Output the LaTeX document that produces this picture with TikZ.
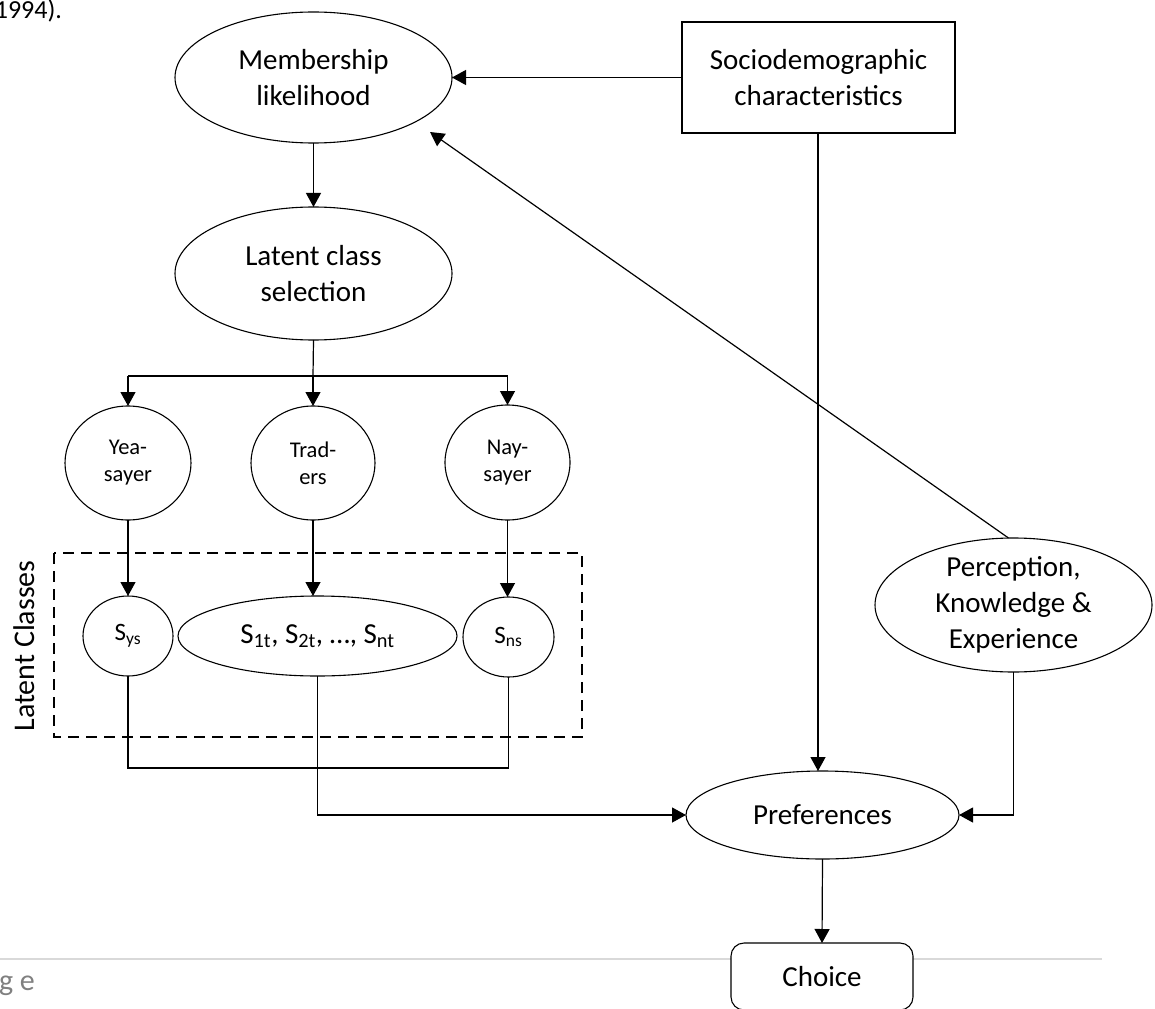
\documentclass[tikz,border=0pt]{standalone}
\usepackage{fontspec}
\setmainfont{Carlito}
\usetikzlibrary{shapes.geometric,arrows.meta}
\begin{document}
\begin{tikzpicture}[x=1pt,y=-1pt,
  every node/.style={inner sep=0pt, outer sep=0pt},
  ell/.style={ellipse, draw, line width=1.1pt, align=center},
  boxsty/.style={rectangle, draw, line width=1.1pt, align=center},
  arr/.style={-{Triangle[length=14pt,width=15pt]}, line width=1.2pt},
  ln/.style={line width=1.2pt},
  bigf/.style={font=\fontsize{29}{36}\selectfont},
  smallf/.style={font=\fontsize{22.5}{27}\selectfont},
  sf/.style={font=\fontsize{25}{28}\selectfont},
  dashbox/.style={line width=2.6pt, dash pattern=on 11pt off 7pt}]
\useasboundingbox (0,0) rectangle (1155,1008);

% page decorations
\node[font=\fontsize{26}{30}\selectfont, anchor=base east] (yr) at (62,19) {1994).};
\draw[line width=2pt, color={rgb,255:red,217;green,217;blue,217}] (0,959) coordinate (gl1) -- (1102,959) coordinate (gl2);
\node[font=\fontsize{30}{34}\selectfont, text={rgb,255:red,128;green,128;blue,128}, anchor=base west] (pg) at (-1,990) {g e};

% nodes
\node[ell, bigf, minimum width=277pt, minimum height=131pt] (mem) at (313.5,77.5) {Membership\\likelihood};
\node[boxsty, bigf, minimum width=273pt, minimum height=111pt] (soc) at (818.5,77.5) {Sociodemographic\\characteristics};
\node[ell, bigf, minimum width=277pt, minimum height=133pt] (lat) at (313.5,273.5) {Latent class\\selection};
\node[ell, smallf, minimum width=126pt, minimum height=114pt] (yea) at (128,463) {Yea-\\sayer};
\node[ell, smallf, minimum width=124pt, minimum height=114pt] (trd) at (313,463) {Trad-\\ers};
\node[ell, smallf, minimum width=125pt, minimum height=115pt] (nay) at (507.5,462.5) {Nay-\\sayer};
\node[ell, sf, minimum width=90pt, minimum height=80pt] (sys) at (128,636) {S\textsubscript{ys}};
\node[ell, bigf, minimum width=279pt, minimum height=80pt] (s1t) at (317.5,636) {S\textsubscript{1t}, S\textsubscript{2t}, …, S\textsubscript{nt}};
\node[ell, sf, minimum width=91pt, minimum height=80pt] (sns) at (508.5,637) {S\textsubscript{ns}};
\node[ell, bigf, minimum width=273pt, minimum height=88pt] (pref) at (822.5,815) {Preferences};
\node[ell, bigf, inner sep=-8pt, minimum width=277pt, minimum height=134pt] (perc) at (1013.5,605) {Perception,\\Knowledge \&\\Experience};
\node[boxsty, bigf, rounded corners=13pt, fill=white, minimum width=182pt, minimum height=67pt] (choice) at (822,976.5) {Choice};
\node[font=\fontsize{30}{36}\selectfont, rotate=90] (lc) at (24,646) {Latent Classes};

% dashed group
\draw[dashbox] (54,553) rectangle (582,737);

% helper coordinates
\coordinate (br) at (313,376);
\coordinate (coll) at (318,768);
\coordinate (memtip) at (430,132);

% connectors
\draw[arr] (soc.west) -- (mem.east);
\draw[arr] (perc.north) ++(-5,0) coordinate (pstart) -- (memtip);
\draw[arr] (mem.south) -- (lat.north);
\draw[ln] (lat.south) -- (br);
\draw[ln] (yea.north |- br) -- (nay.north |- br);
\draw[arr] (yea.north |- br) -- (yea.north);
\draw[arr] (br) -- (trd.north);
\draw[arr] (nay.north |- br) -- (nay.north);
\draw[arr] (yea.south) -- (sys.north);
\draw[arr] (trd.south) -- (trd.south |- s1t.north);
\draw[arr] (nay.south) -- (nay.south |- sns.north);
\draw[ln] (sys.south) -- (sys.south |- coll) -- (sns.south |- coll) -- (sns.south);
\draw[arr] (s1t.south) |- (pref.west);
\draw[arr] (soc.south -| 818,0) -- (818,771);
\draw[arr] (perc.south) |- (pref.east);
\draw[arr] (pref.south) -- (choice.north);
\end{tikzpicture}
\end{document}
